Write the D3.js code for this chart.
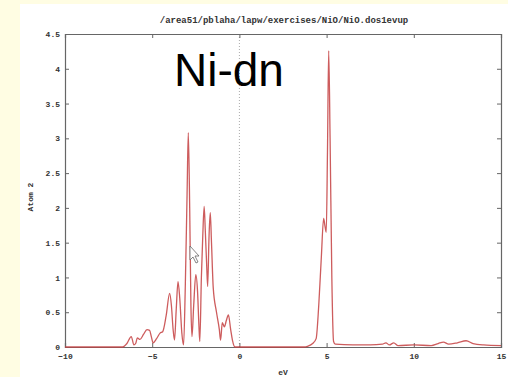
<!DOCTYPE html>
<html>
<head>
<meta charset="utf-8">
<script src="https://cdn.jsdelivr.net/npm/d3@7"></script>
<style>
  html, body { margin: 0; padding: 0; background: #fffde3; }
  svg { display: block; }
  .tick text { font-family: "Liberation Mono", "DejaVu Sans Mono", monospace; font-weight: bold; font-size: 8px; fill: #333; }
  .axis path, .axis line { stroke: #666; }
</style>
</head>
<body>
<svg id="chart" width="508" height="377"></svg>
<script>
// Energy grid (eV) and Ni d-projected density of states (spin down)
const energy = [
  -10, -7.0, -6.7, -6.45, -6.2, -6.05, -5.95, -5.85, -5.7, -5.5, -5.3, -5.15, -5.05, -4.95,
  -4.75, -4.55, -4.4, -4.2, -4.0, -3.9, -3.8, -3.72, -3.62, -3.52, -3.42, -3.3, -3.2,
  -3.1, -3.0, -2.93, -2.85, -2.78, -2.72, -2.62, -2.5, -2.4, -2.32, -2.27, -2.18, -2.1,
  -2.02, -1.96, -1.88, -1.82, -1.74, -1.67, -1.6, -1.5, -1.32, -1.15, -1.08, -0.98,
  -0.86, -0.75, -0.63, -0.5, -0.4, -0.25,
  3.7, 3.9, 4.2, 4.4, 4.55, 4.7, 4.83, 4.9, 4.98, 5.05, 5.12, 5.2, 5.3, 5.4, 5.5,
  6.5, 7.5, 8.2, 8.4, 8.6, 8.85, 9.1, 10, 11, 11.4, 11.7, 12.0, 12.5, 13.0, 13.4, 14.0, 15
];
const dos = [
  0, 0, 0, 0.05, 0.15, 0.03, 0.05, 0.13, 0.11, 0.18, 0.25, 0.24, 0.15, 0.06,
  0.12, 0.2, 0.22, 0.45, 0.77, 0.6, 0.25, 0.1, 0.55, 0.94, 0.7, 0.2, 0.03,
  0.9, 2.2, 3.08, 2.0, 0.6, 0.15, 0.6, 1.04, 0.8, 0.3, 0.08, 1.0, 1.6,
  2.02, 1.7, 1.2, 0.87, 1.6, 1.93, 1.5, 0.85, 0.51, 0.25, 0.1, 0.35,
  0.29, 0.38, 0.46, 0.25, 0.1, 0.0,
  0, 0.01, 0.05, 0.12, 0.6, 1.3, 1.85, 1.75, 1.65, 2.8, 4.26, 3.0, 1.0, 0.08, 0.04,
  0.03, 0.03, 0.04, 0.06, 0.03, 0.06, 0.02, 0.03, 0.02, 0.05, 0.07, 0.04, 0.06, 0.09, 0.05, 0.03, 0.02
];
const xTicks = [-10, -5, 0, 5, 10, 15];
const yTicks = [0, 0.5, 1, 1.5, 2, 2.5, 3, 3.5, 4, 4.5];
const titleText = "/area51/pblaha/lapw/exercises/NiO/NiO.dos1evup";
const xLabel = "eV";
const yLabel = "Atom 2";
const annotation = "Ni-dn";
const fermiLevel = 0;

const svg = d3.select("#chart");
const W = 508, H = 377;
const m = { left: 65, right: 7, top: 34, bottom: 30 };

// white page panel over the tinted background
svg.append("rect").attr("x", 20).attr("y", 4).attr("width", W - 20).attr("height", H - 4).attr("fill", "#ffffff");

const x = d3.scaleLinear().domain([-10, 15]).range([m.left, W - m.right]);
const y = d3.scaleLinear().domain([0, 4.5]).range([H - m.bottom, m.top]);

// Fermi level marker
svg.append("line")
  .attr("x1", x(fermiLevel)).attr("x2", x(fermiLevel))
  .attr("y1", y(4.5)).attr("y2", y(0))
  .attr("stroke", "#aaa").attr("stroke-width", 1).attr("stroke-dasharray", "1,2");

// axes with inward ticks, mirrored on top and right
svg.append("g").attr("class", "axis").attr("transform", `translate(0,${y(0)})`)
  .call(d3.axisBottom(x).tickValues(xTicks).tickSize(-4).tickPadding(6).tickFormat(d3.format("d")));
svg.append("g").attr("class", "axis").attr("transform", `translate(0,${y(4.5)})`)
  .call(d3.axisTop(x).tickValues(xTicks).tickSize(-4).tickFormat(""));
svg.append("g").attr("class", "axis").attr("transform", `translate(${x(-10)},0)`)
  .call(d3.axisLeft(y).tickValues(yTicks).tickSize(-4).tickPadding(5).tickFormat(d3.format("~g")));
svg.append("g").attr("class", "axis").attr("transform", `translate(${x(15)},0)`)
  .call(d3.axisRight(y).tickValues(yTicks).tickSize(-4).tickFormat(""));
svg.selectAll(".axis .domain").attr("stroke", "#666").attr("stroke-width", 1.2);

// DOS curve
const pts = energy.map((e, i) => [e, dos[i]]);
svg.append("path")
  .datum(pts)
  .attr("fill", "none")
  .attr("stroke", "#c43f41")
  .attr("stroke-opacity", 0.85)
  .attr("stroke-width", 1.3)
  .attr("stroke-linejoin", "round")
  .attr("d", d3.line().curve(d3.curveMonotoneX).x(d => x(d[0])).y(d => y(d[1])));

// texts
svg.append("text").attr("x", 284).attr("y", 23).attr("text-anchor", "middle")
  .attr("font-family", "Liberation Mono, DejaVu Sans Mono, monospace").attr("font-weight", "bold")
  .attr("font-size", 9).attr("fill", "#333").text(titleText);
svg.append("text").attr("x", 283).attr("y", 375).attr("text-anchor", "middle")
  .attr("font-family", "Liberation Mono, DejaVu Sans Mono, monospace").attr("font-weight", "bold")
  .attr("font-size", 8).attr("fill", "#333").text(xLabel);
svg.append("text").attr("transform", "translate(33,197) rotate(-90)").attr("text-anchor", "middle")
  .attr("font-family", "Liberation Mono, DejaVu Sans Mono, monospace").attr("font-weight", "bold")
  .attr("font-size", 8).attr("fill", "#333").text(yLabel);
svg.append("text").attr("x", 174).attr("y", 86)
  .attr("font-family", "Liberation Sans, Arial, sans-serif")
  .attr("font-size", 46).attr("fill", "#000").text(annotation);

// mouse pointer left on the plot
const cx = 190, cy = 246;
svg.append("path")
  .attr("d", `M${cx},${cy} l0,14 l3,-3 l3,6 l2,-1 l-3,-6 l4,0 z`)
  .attr("fill", "#fff").attr("stroke", "#666").attr("stroke-width", 0.8);
</script>
</body>
</html>
